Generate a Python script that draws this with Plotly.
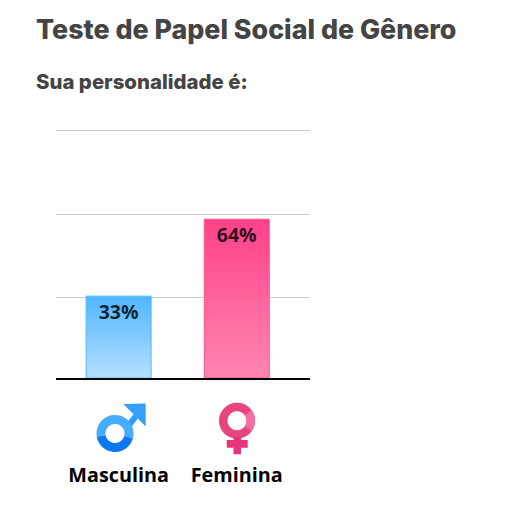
import math
import plotly.graph_objects as go

categories = ["Masculina", "Feminina"]
values = [33, 64]
value_labels = ["33%", "64%"]
grid_values = [32.3, 66.1, 99.6]
bar_gradients = [
    [[0, "#b5dfff"], [1, "#50b6ff"]],
    [[0, "#ff86b4"], [1, "#ff4188"]],
]
edge_colors = ["#4db8ff", "#ff4d92"]

W, H = 513, 515
L, R, T, B = 56, 310, 126, 378
Y_MAX = 101.6
bar_width = 0.55


def px(x):
    return (x - L) / (R - L)


def py(y):
    return (B - y) / (B - T)


def poly(points):
    return "M" + " L".join(f"{px(x):.5f},{py(y):.5f}" for x, y in points) + " Z"


def sector(cx, cy, r0, r1, a0, a1, n=48):
    angles = [math.radians(a0 + (a1 - a0) * i / n) for i in range(n + 1)]
    outer = [(cx + r1 * math.cos(a), cy + r1 * math.sin(a)) for a in angles]
    inner = [(cx + r0 * math.cos(a), cy + r0 * math.sin(a)) for a in reversed(angles)]
    return poly(outer + inner)


def icon(path, color):
    return dict(type="path", xref="paper", yref="paper", layer="above",
                path=path, fillcolor=color, line=dict(width=0))


fig = go.Figure()
positions = list(range(len(categories)))

for pos, val, grad, edge in zip(positions, values, bar_gradients, edge_colors):
    left, right = pos - bar_width / 2, pos + bar_width / 2
    fig.add_trace(go.Scatter(
        x=[left, right, right, left, left], y=[0, 0, val, val, 0],
        mode="lines", fill="toself", line=dict(color=edge, width=1),
        fillgradient=dict(type="vertical", colorscale=grad),
        hoverinfo="skip", showlegend=False,
    ))

fig.add_trace(go.Scatter(
    x=positions, y=[v - 3.4 for v in values], mode="text", text=value_labels,
    textposition="bottom center",
    textfont=dict(family="Open Sans", size=19.5, color="rgba(0,0,0,0.82)", weight=700),
    showlegend=False, hoverinfo="skip",
))

shapes = [
    # Male icon
    icon(poly([(125, 425), (137, 410), (141, 414), (130, 429)]), "#2f9bfb"),
    icon(poly([(123.3, 404), (145.7, 403.5), (145.7, 426.5)]), "#35a0fb"),
    icon(sector(115, 433.5, 9.5, 18.5, 170, 375), "#46acfc"),
    icon(sector(115, 433.5, 9.5, 18.5, 15, 170), "#0b78f0"),
    # Female icon
    icon(sector(237, 420.7, 9.5, 18, 0, 360), "#e8447f"),
    icon(sector(237, 420.7, 9.5, 18, -35, 35), "#f56ea3"),
    icon(poly([(233.5, 437), (241, 437), (241, 440), (247.7, 440), (247.7, 447.7),
               (241, 447.7), (241, 454.3), (233.5, 454.3), (233.5, 447.7),
               (226.7, 447.7), (226.7, 440), (233.5, 440)]), "#e8357a"),
]

annotations = [
    dict(text="Teste de Papel Social de Gênero", x=px(34), y=py(29), xref="paper", yref="paper",
         xanchor="left", yanchor="middle", showarrow=False,
         font=dict(family="Inter", size=26.8, color="#444444", weight=800)),
    dict(text="Sua personalidade é:", x=px(34), y=py(81), xref="paper", yref="paper",
         xanchor="left", yanchor="middle", showarrow=False,
         font=dict(family="Inter", size=20.4, color="#444444", weight=800)),
]

fig.update_layout(
    width=W, height=H, autosize=False,
    margin=dict(l=L, r=W - R, t=T, b=H - B, pad=0),
    paper_bgcolor="white", plot_bgcolor="white",
    showlegend=False, shapes=shapes, annotations=annotations,
    xaxis=dict(
        range=[-0.53, 1.62], tickmode="array", tickvals=positions, ticktext=categories,
        showgrid=False, zeroline=False, showline=True, linecolor="black", linewidth=2,
        ticks="", ticklabelstandoff=78,
        tickfont=dict(family="Open Sans", size=19.8, color="black", weight=700),
    ),
    yaxis=dict(
        range=[0, Y_MAX], tickmode="array", tickvals=grid_values, showticklabels=False,
        showgrid=True, gridcolor="#cccccc", gridwidth=1, zeroline=False, showline=False, ticks="",
    ),
)

fig.write_html("out.html", post_script="document.body.style.margin='0';",
               config=dict(displayModeBar=False))
